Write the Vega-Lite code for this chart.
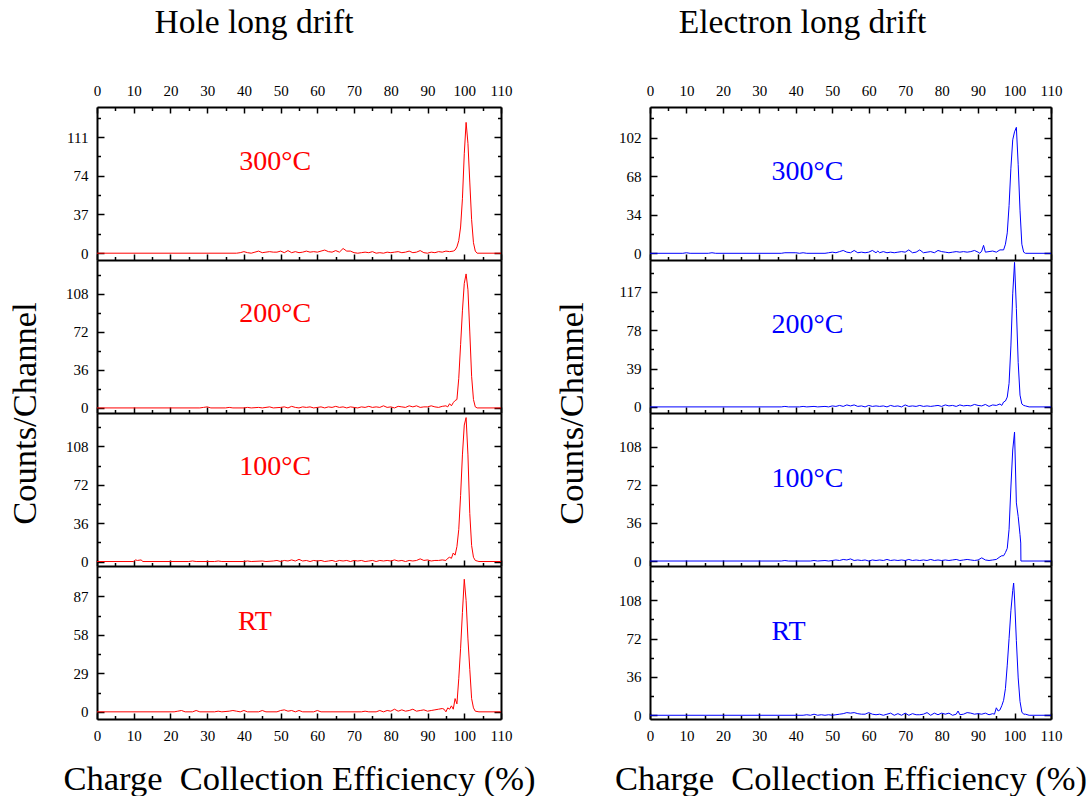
{
  "$schema": "https://vega.github.io/schema/vega-lite/v6.json",
  "background": "white",
  "padding": {"left": 7, "top": 6, "right": 5, "bottom": 5},
  "config": {
    "view": {"stroke": null},
    "font": "Liberation Serif",
    "axis": {
      "domainColor": "black", "domainWidth": 2, "tickColor": "black", "tickWidth": 1.5,
      "labelFont": "Liberation Serif", "labelFontSize": 15, "labelColor": "black",
      "grid": false, "labelFlush": false, "labelOverlap": false, "labelBound": false,
      "titleFont": "Liberation Serif", "titleFontWeight": "normal", "titleColor": "black"
    },
    "title": {"font": "Liberation Serif", "fontWeight": "normal", "fontSize": 33.5, "color": "black"},
    "text": {"font": "Liberation Serif"}
  },
  "datasets": {
    "h300": [
      {"x":0,"y":0},{"x":38,"y":0},{"x":39,"y":0.5},{"x":40,"y":1.5},{"x":41,"y":0.5},{"x":42,"y":0},{"x":43,"y":1},{"x":44,"y":2},{"x":45,"y":0.5},{"x":46,"y":1},{"x":47,"y":1.5},{"x":48,"y":1},{"x":49,"y":1},{"x":50,"y":2},{"x":51,"y":0.5},{"x":52,"y":2.5},{"x":53,"y":0.5},{"x":54,"y":1.5},{"x":55,"y":0.5},{"x":56,"y":1},{"x":57,"y":2},{"x":58,"y":1},{"x":59,"y":1.5},{"x":60,"y":1},{"x":61,"y":2},{"x":62,"y":3},{"x":63,"y":1.5},{"x":64,"y":1},{"x":65,"y":2.5},{"x":66,"y":1},{"x":67,"y":4.5},{"x":68,"y":2},{"x":69,"y":2},{"x":70,"y":0.5},{"x":71,"y":0},{"x":72,"y":0.5},{"x":73,"y":1},{"x":74,"y":0.5},{"x":75,"y":1.5},{"x":76,"y":0},{"x":77,"y":0.5},{"x":78,"y":0},{"x":79,"y":1},{"x":80,"y":0.5},{"x":81,"y":1},{"x":82,"y":1.5},{"x":83,"y":0.5},{"x":84,"y":1},{"x":85,"y":2},{"x":86,"y":0.5},{"x":87,"y":1},{"x":88,"y":2.5},{"x":89,"y":0.5},{"x":90,"y":0},{"x":91,"y":1},{"x":92,"y":0.5},{"x":93,"y":1.5},{"x":94,"y":1},{"x":95,"y":2},{"x":96,"y":1.5},{"x":97,"y":2},{"x":97.5,"y":3},{"x":98,"y":6},{"x":98.5,"y":12},{"x":99,"y":25},{"x":99.5,"y":52},{"x":100,"y":95},{"x":100.5,"y":125},{"x":101,"y":105},{"x":101.5,"y":68},{"x":102,"y":32},{"x":102.5,"y":10},{"x":103,"y":2},{"x":103.5,"y":0},{"x":110,"y":0}
    ],
    "h200": [
      {"x":0,"y":0},{"x":28,"y":0},{"x":29,"y":0.5},{"x":30,"y":1},{"x":31,"y":0},{"x":35,"y":0},{"x":36,"y":0.5},{"x":37,"y":0},{"x":40,"y":0},{"x":41,"y":0.5},{"x":42,"y":0},{"x":44,"y":0.5},{"x":45,"y":0},{"x":47,"y":1},{"x":48,"y":0},{"x":50,"y":0.5},{"x":51,"y":1},{"x":52,"y":0},{"x":53,"y":1.5},{"x":54,"y":0.5},{"x":55,"y":0},{"x":56,"y":1},{"x":57,"y":0.5},{"x":58,"y":1},{"x":59,"y":0},{"x":60,"y":0.5},{"x":61,"y":1},{"x":62,"y":0},{"x":63,"y":1},{"x":64,"y":0.5},{"x":65,"y":1.5},{"x":66,"y":0.5},{"x":67,"y":1},{"x":68,"y":0},{"x":69,"y":1},{"x":70,"y":0.5},{"x":71,"y":0},{"x":72,"y":1},{"x":73,"y":0.5},{"x":74,"y":1.5},{"x":75,"y":0.5},{"x":76,"y":1},{"x":77,"y":0.5},{"x":78,"y":2},{"x":79,"y":0.5},{"x":80,"y":1},{"x":81,"y":0},{"x":82,"y":1.5},{"x":83,"y":1},{"x":84,"y":0.5},{"x":85,"y":2},{"x":86,"y":1},{"x":87,"y":2},{"x":88,"y":0.5},{"x":89,"y":1},{"x":90,"y":1},{"x":91,"y":2},{"x":92,"y":1},{"x":93,"y":0.5},{"x":94,"y":1.5},{"x":95,"y":2},{"x":95.5,"y":1},{"x":96,"y":4},{"x":96.5,"y":2},{"x":97,"y":5},{"x":97.5,"y":7},{"x":98,"y":8},{"x":98.5,"y":28},{"x":99,"y":60},{"x":99.5,"y":92},{"x":100,"y":118},{"x":100.5,"y":127},{"x":101,"y":112},{"x":101.5,"y":72},{"x":102,"y":30},{"x":102.5,"y":8},{"x":103,"y":1},{"x":103.5,"y":0},{"x":110,"y":0}
    ],
    "h100": [
      {"x":0,"y":0},{"x":10,"y":0},{"x":10.5,"y":1.5},{"x":11,"y":1},{"x":12,"y":1.5},{"x":12.5,"y":0},{"x":25,"y":0},{"x":26,"y":0.5},{"x":27,"y":0},{"x":32,"y":0},{"x":33,"y":0.5},{"x":34,"y":0},{"x":40,"y":0},{"x":41,"y":0.5},{"x":42,"y":0},{"x":45,"y":0.5},{"x":46,"y":0},{"x":48,"y":0.5},{"x":49,"y":1},{"x":50,"y":0},{"x":51,"y":1},{"x":52,"y":0.5},{"x":53,"y":1.5},{"x":54,"y":0.5},{"x":55,"y":2},{"x":56,"y":0.5},{"x":57,"y":1},{"x":58,"y":0},{"x":59,"y":1},{"x":60,"y":0.5},{"x":61,"y":1},{"x":62,"y":0},{"x":63,"y":0.5},{"x":64,"y":1},{"x":65,"y":0},{"x":66,"y":1},{"x":67,"y":0.5},{"x":68,"y":1},{"x":69,"y":0},{"x":70,"y":1},{"x":71,"y":0.5},{"x":72,"y":1},{"x":73,"y":0},{"x":74,"y":0.5},{"x":75,"y":1},{"x":76,"y":0},{"x":77,"y":1},{"x":78,"y":0.5},{"x":79,"y":1},{"x":80,"y":0.5},{"x":81,"y":1.5},{"x":82,"y":0.5},{"x":83,"y":1},{"x":84,"y":0},{"x":85,"y":1},{"x":86,"y":0.5},{"x":87,"y":1},{"x":88,"y":2.5},{"x":89,"y":1},{"x":90,"y":1.5},{"x":91,"y":0.5},{"x":92,"y":1},{"x":93,"y":1},{"x":94,"y":1.5},{"x":95,"y":1},{"x":95.5,"y":3},{"x":96,"y":4},{"x":96.5,"y":3},{"x":97,"y":8},{"x":97.5,"y":6},{"x":98,"y":14},{"x":98.5,"y":30},{"x":99,"y":62},{"x":99.5,"y":100},{"x":100,"y":128},{"x":100.5,"y":135},{"x":101,"y":100},{"x":101.5,"y":45},{"x":102,"y":15},{"x":102.5,"y":4},{"x":103,"y":1},{"x":103.5,"y":0.5},{"x":104,"y":0},{"x":110,"y":0}
    ],
    "hrt": [
      {"x":0,"y":0},{"x":21,"y":0},{"x":22,"y":0.5},{"x":23,"y":1},{"x":24,"y":0},{"x":26,"y":0},{"x":27,"y":1},{"x":28,"y":0},{"x":32,"y":0},{"x":33,"y":0.5},{"x":34,"y":0},{"x":36,"y":0.5},{"x":37,"y":1},{"x":38,"y":0.5},{"x":39,"y":0},{"x":40,"y":1},{"x":41,"y":0},{"x":44,"y":0},{"x":45,"y":1},{"x":46,"y":0},{"x":49,"y":0},{"x":50,"y":1},{"x":51,"y":1.5},{"x":52,"y":0.5},{"x":53,"y":1},{"x":54,"y":0},{"x":55,"y":1},{"x":56,"y":0},{"x":59,"y":0},{"x":60,"y":1},{"x":61,"y":0},{"x":72,"y":0},{"x":73,"y":0.5},{"x":74,"y":0},{"x":76,"y":0},{"x":77,"y":1},{"x":78,"y":0},{"x":79,"y":1},{"x":80,"y":0.5},{"x":81,"y":2},{"x":82,"y":0.5},{"x":83,"y":1.5},{"x":84,"y":0.5},{"x":85,"y":1},{"x":86,"y":2},{"x":87,"y":0.5},{"x":88,"y":1},{"x":89,"y":1.5},{"x":90,"y":0.5},{"x":91,"y":1},{"x":92,"y":1.5},{"x":93,"y":2},{"x":94,"y":2.5},{"x":94.5,"y":2},{"x":95,"y":0},{"x":95.5,"y":3},{"x":96,"y":2},{"x":96.5,"y":4.5},{"x":97,"y":2},{"x":97.5,"y":10},{"x":98,"y":6},{"x":98.5,"y":25},{"x":99,"y":48},{"x":99.5,"y":75},{"x":100,"y":100},{"x":100.5,"y":84},{"x":101,"y":55},{"x":101.5,"y":32},{"x":102,"y":10},{"x":102.5,"y":3},{"x":103,"y":0.5},{"x":104,"y":0},{"x":110,"y":0}
    ],
    "e300": [
      {"x":0,"y":0},{"x":9,"y":0},{"x":10,"y":0.5},{"x":11,"y":0},{"x":16,"y":0},{"x":17,"y":0.5},{"x":18,"y":0},{"x":36,"y":0},{"x":37,"y":0.5},{"x":40,"y":0.5},{"x":41,"y":0},{"x":42,"y":0.5},{"x":43,"y":0},{"x":48,"y":0},{"x":49,"y":0.5},{"x":50,"y":1},{"x":51,"y":0.5},{"x":52,"y":1.5},{"x":53,"y":2.5},{"x":54,"y":1},{"x":55,"y":0.5},{"x":56,"y":2.5},{"x":57,"y":0.5},{"x":58,"y":1},{"x":59,"y":0.5},{"x":60,"y":1},{"x":61,"y":2.5},{"x":62,"y":0.5},{"x":62.5,"y":2},{"x":63,"y":0.5},{"x":64,"y":1.5},{"x":65,"y":0.5},{"x":66,"y":1},{"x":67,"y":0.5},{"x":68,"y":1},{"x":69,"y":1.5},{"x":70,"y":1},{"x":71,"y":3},{"x":72,"y":0.5},{"x":73,"y":1},{"x":74,"y":3},{"x":75,"y":0.5},{"x":76,"y":1},{"x":77,"y":1.5},{"x":78,"y":0.5},{"x":79,"y":2.5},{"x":80,"y":1.5},{"x":81,"y":1},{"x":82,"y":0.5},{"x":83,"y":1},{"x":84,"y":1.5},{"x":85,"y":1},{"x":86,"y":1.5},{"x":87,"y":1},{"x":88,"y":1.5},{"x":89,"y":2.5},{"x":90,"y":1},{"x":90.5,"y":0},{"x":91,"y":2},{"x":91.5,"y":7},{"x":92,"y":1},{"x":93,"y":1.5},{"x":94,"y":2},{"x":95,"y":1},{"x":96,"y":3},{"x":97,"y":3},{"x":97.5,"y":8},{"x":98,"y":18},{"x":98.5,"y":42},{"x":99,"y":75},{"x":99.5,"y":100},{"x":100,"y":107},{"x":100.5,"y":111},{"x":101,"y":78},{"x":101.5,"y":38},{"x":102,"y":8},{"x":102.5,"y":1},{"x":103,"y":0},{"x":110,"y":0}
    ],
    "e200": [
      {"x":0,"y":0},{"x":36,"y":0},{"x":37,"y":0.5},{"x":38,"y":0},{"x":41,"y":0},{"x":42,"y":0.5},{"x":43,"y":0},{"x":45,"y":0.5},{"x":46,"y":0},{"x":48,"y":0.5},{"x":49,"y":0},{"x":50,"y":1},{"x":51,"y":0.5},{"x":52,"y":1.5},{"x":53,"y":0.5},{"x":54,"y":2},{"x":55,"y":1},{"x":56,"y":2},{"x":57,"y":0.5},{"x":58,"y":1},{"x":59,"y":0},{"x":60,"y":1.5},{"x":61,"y":0.5},{"x":62,"y":1},{"x":63,"y":0.5},{"x":64,"y":1},{"x":65,"y":0},{"x":66,"y":1.5},{"x":67,"y":0.5},{"x":68,"y":1},{"x":69,"y":0},{"x":70,"y":2},{"x":71,"y":0.5},{"x":72,"y":1},{"x":73,"y":0.5},{"x":74,"y":1.5},{"x":75,"y":0.5},{"x":76,"y":1},{"x":77,"y":0.5},{"x":78,"y":1},{"x":79,"y":1.5},{"x":80,"y":0.5},{"x":81,"y":2},{"x":82,"y":1},{"x":83,"y":1.5},{"x":84,"y":0.5},{"x":85,"y":2},{"x":86,"y":1},{"x":87,"y":1.5},{"x":88,"y":1},{"x":89,"y":2.5},{"x":90,"y":1.5},{"x":91,"y":1},{"x":92,"y":2.5},{"x":93,"y":0.5},{"x":94,"y":2},{"x":95,"y":1.5},{"x":96,"y":3},{"x":96.5,"y":1.5},{"x":97,"y":5},{"x":97.5,"y":6},{"x":98,"y":10},{"x":98.5,"y":24},{"x":99,"y":62},{"x":99.5,"y":115},{"x":100,"y":147},{"x":100.5,"y":100},{"x":101,"y":45},{"x":101.5,"y":12},{"x":102,"y":3},{"x":102.5,"y":1.5},{"x":103,"y":1},{"x":104,"y":0},{"x":110,"y":0}
    ],
    "e100": [
      {"x":0,"y":0},{"x":36,"y":0},{"x":37,"y":0.5},{"x":38,"y":0},{"x":44,"y":0},{"x":45,"y":0.5},{"x":46,"y":0},{"x":48,"y":0.5},{"x":49,"y":0},{"x":50,"y":0.5},{"x":51,"y":1},{"x":52,"y":0.5},{"x":53,"y":1.5},{"x":54,"y":1},{"x":55,"y":2},{"x":56,"y":0.5},{"x":57,"y":1},{"x":58,"y":0.5},{"x":59,"y":1},{"x":60,"y":0},{"x":61,"y":1},{"x":62,"y":0.5},{"x":63,"y":1},{"x":64,"y":0.5},{"x":65,"y":1.5},{"x":66,"y":0.5},{"x":67,"y":1},{"x":68,"y":0.5},{"x":69,"y":1},{"x":70,"y":0.5},{"x":71,"y":1.5},{"x":72,"y":0.5},{"x":73,"y":1},{"x":74,"y":0.5},{"x":75,"y":1},{"x":76,"y":0.5},{"x":77,"y":1.5},{"x":78,"y":0.5},{"x":79,"y":1},{"x":80,"y":0.5},{"x":81,"y":1},{"x":82,"y":0.5},{"x":83,"y":1},{"x":84,"y":1.5},{"x":85,"y":0.5},{"x":86,"y":1},{"x":87,"y":1.5},{"x":88,"y":1},{"x":89,"y":0.5},{"x":90,"y":1},{"x":91,"y":3},{"x":92,"y":1},{"x":93,"y":0.5},{"x":94,"y":1},{"x":95,"y":1.5},{"x":96,"y":4},{"x":96.5,"y":5},{"x":97,"y":5},{"x":97.5,"y":8},{"x":98,"y":12},{"x":98.5,"y":30},{"x":99,"y":70},{"x":99.5,"y":105},{"x":100,"y":122},{"x":100.5,"y":55},{"x":101,"y":42},{"x":101.5,"y":25},{"x":101.7,"y":17},{"x":101.75,"y":0},{"x":110,"y":0}
    ],
    "ert": [
      {"x":0,"y":0},{"x":42,"y":0},{"x":43,"y":0.5},{"x":44,"y":0},{"x":45,"y":1},{"x":46,"y":0},{"x":47,"y":0.5},{"x":48,"y":0},{"x":49,"y":0.5},{"x":50,"y":0},{"x":51,"y":0.5},{"x":52,"y":1},{"x":53,"y":1.5},{"x":54,"y":2.5},{"x":55,"y":2},{"x":56,"y":2.5},{"x":57,"y":1.5},{"x":58,"y":1},{"x":59,"y":1},{"x":60,"y":2.5},{"x":61,"y":1},{"x":62,"y":0.5},{"x":63,"y":1},{"x":64,"y":0},{"x":65,"y":1},{"x":66,"y":2},{"x":67,"y":0},{"x":68,"y":1.5},{"x":69,"y":0},{"x":70,"y":2},{"x":71,"y":0},{"x":72,"y":1.5},{"x":73,"y":0.5},{"x":74,"y":0.5},{"x":75,"y":1},{"x":76,"y":2.5},{"x":77,"y":0},{"x":78,"y":2},{"x":79,"y":0.5},{"x":80,"y":2},{"x":81,"y":1},{"x":82,"y":2},{"x":83,"y":0},{"x":84,"y":1},{"x":84.5,"y":4},{"x":85,"y":0.5},{"x":86,"y":1},{"x":87,"y":2.5},{"x":88,"y":2},{"x":89,"y":1},{"x":90,"y":1.5},{"x":91,"y":1},{"x":92,"y":2},{"x":93,"y":0.5},{"x":94,"y":1.5},{"x":94.5,"y":1},{"x":95,"y":7},{"x":95.5,"y":4},{"x":96,"y":5},{"x":96.5,"y":9},{"x":97,"y":14},{"x":97.5,"y":25},{"x":98,"y":47},{"x":98.5,"y":72},{"x":99,"y":98},{"x":99.5,"y":117},{"x":99.75,"y":124},{"x":100,"y":110},{"x":100.5,"y":70},{"x":101,"y":35},{"x":101.5,"y":13},{"x":102,"y":3},{"x":102.5,"y":1},{"x":103,"y":1},{"x":104,"y":0},{"x":110,"y":0}
    ]
  },
  "columns": 2,
  "spacing": {"row": 0, "column": 149},
  "bounds": "flush",
  "concat": [
    {
      "title": {"text": "Hole long drift", "anchor": "middle", "dx": -45, "offset": 40},
      "width": 404, "height": 153,
      "resolve": {"axis": {"x": "independent", "y": "independent"}},
      "layer": [
        {
          "data": {"name": "h300"},
          "mark": {"type": "line", "color": "#ff0000", "strokeWidth": 1, "clip": true},
          "encoding": {
            "x": {"field": "x", "type": "quantitative", "scale": {"domain": [0, 110], "nice": false, "zero": false},
              "axis": {"orient": "bottom", "values": [0,5,10,15,20,25,30,35,40,45,50,55,60,65,70,75,80,85,90,95,100,105,110], "labels": false, "title": null,
                "tickSize": {"condition": {"test": "datum.value % 10 === 0", "value": -6}, "value": -3.5}}},
            "y": {"field": "y", "type": "quantitative", "scale": {"domain": [-6.5, 139.7], "nice": false, "zero": false},
              "axis": {"orient": "left", "values": [0,18.5,37,55.5,74,92.5,111,129.5], "title": null, "labelPadding": 16,
                "labelExpr": "datum.value % 37 === 0 ? datum.label : ''",
                "tickSize": {"condition": {"test": "datum.value % 37 === 0", "value": -7}, "value": -3.5}}}
          }
        },
        {
          "data": {"values": [{"label": "300°C"}]},
          "mark": {"type": "text", "color": "#ff0000", "fontSize": 28, "align": "center", "baseline": "middle"},
          "encoding": {
            "text": {"field": "label"},
            "x": {"datum": 48.5, "type": "quantitative", "scale": {"domain": [0, 110], "nice": false, "zero": false},
              "axis": {"orient": "top", "values": [0,5,10,15,20,25,30,35,40,45,50,55,60,65,70,75,80,85,90,95,100,105,110], "title": null, "labelPadding": 15,
                "labelExpr": "datum.value % 10 === 0 ? datum.label : ''",
                "tickSize": {"condition": {"test": "datum.value % 10 === 0", "value": -6}, "value": -3.5}}},
            "y": {"datum": 87, "type": "quantitative", "scale": {"domain": [-6.5, 139.7], "nice": false, "zero": false},
              "axis": {"orient": "right", "values": [0,18.5,37,55.5,74,92.5,111,129.5], "title": null, "labels": false,
                "tickSize": {"condition": {"test": "datum.value % 37 === 0", "value": -7}, "value": -3.5}}}
          }
        }
      ]
    },
    {
      "title": {"text": "Electron long drift", "anchor": "middle", "dx": -48, "offset": 40},
      "width": 401, "height": 153,
      "resolve": {"axis": {"x": "independent", "y": "independent"}},
      "layer": [
        {
          "data": {"name": "e300"},
          "mark": {"type": "line", "color": "#0000ff", "strokeWidth": 1, "clip": true},
          "encoding": {
            "x": {"field": "x", "type": "quantitative", "scale": {"domain": [0, 110], "nice": false, "zero": false},
              "axis": {"orient": "bottom", "values": [0,5,10,15,20,25,30,35,40,45,50,55,60,65,70,75,80,85,90,95,100,105,110], "labels": false, "title": null,
                "tickSize": {"condition": {"test": "datum.value % 10 === 0", "value": -6}, "value": -3.5}}},
            "y": {"field": "y", "type": "quantitative", "scale": {"domain": [-5.9, 128.9], "nice": false, "zero": false},
              "axis": {"orient": "left", "values": [0,17,34,51,68,85,102,119], "title": null, "labelPadding": 16,
                "labelExpr": "datum.value % 34 === 0 ? datum.label : ''",
                "tickSize": {"condition": {"test": "datum.value % 34 === 0", "value": -7}, "value": -3.5}}}
          }
        },
        {
          "data": {"values": [{"label": "300°C"}]},
          "mark": {"type": "text", "color": "#0000ff", "fontSize": 28, "align": "center", "baseline": "middle"},
          "encoding": {
            "text": {"field": "label"},
            "x": {"datum": 43.2, "type": "quantitative", "scale": {"domain": [0, 110], "nice": false, "zero": false},
              "axis": {"orient": "top", "values": [0,5,10,15,20,25,30,35,40,45,50,55,60,65,70,75,80,85,90,95,100,105,110], "title": null, "labelPadding": 15,
                "labelExpr": "datum.value % 10 === 0 ? datum.label : ''",
                "tickSize": {"condition": {"test": "datum.value % 10 === 0", "value": -6}, "value": -3.5}}},
            "y": {"datum": 72, "type": "quantitative", "scale": {"domain": [-5.9, 128.9], "nice": false, "zero": false},
              "axis": {"orient": "right", "values": [0,17,34,51,68,85,102,119], "title": null, "labels": false,
                "tickSize": {"condition": {"test": "datum.value % 34 === 0", "value": -7}, "value": -3.5}}}
          }
        }
      ]
    },
    {
      "width": 404, "height": 153,
      "resolve": {"axis": {"x": "independent", "y": "independent"}},
      "layer": [
        {
          "data": {"name": "h200"},
          "mark": {"type": "line", "color": "#ff0000", "strokeWidth": 1, "clip": true},
          "encoding": {
            "x": {"field": "x", "type": "quantitative", "scale": {"domain": [0, 110], "nice": false, "zero": false},
              "axis": {"orient": "bottom", "values": [0,5,10,15,20,25,30,35,40,45,50,55,60,65,70,75,80,85,90,95,100,105,110], "labels": false, "title": null,
                "tickSize": {"condition": {"test": "datum.value % 10 === 0", "value": -6}, "value": -3.5}}},
            "y": {"field": "y", "type": "quantitative", "scale": {"domain": [-4.8, 140.2], "nice": false, "zero": false},
              "axis": {"orient": "left", "values": [0,18,36,54,72,90,108,126], "labelPadding": 16,
                "labelExpr": "datum.value % 36 === 0 ? datum.label : ''",
                "title": "Counts/Channel", "titleFontSize": 34.5, "titleX": -72, "titleY": 153, "titleAngle": 270, "titleAlign": "center", "titleBaseline": "middle",
                "tickSize": {"condition": {"test": "datum.value % 36 === 0", "value": -7}, "value": -3.5}}}
          }
        },
        {
          "data": {"values": [{"label": "200°C"}]},
          "mark": {"type": "text", "color": "#ff0000", "fontSize": 28, "align": "center", "baseline": "middle"},
          "encoding": {
            "text": {"field": "label"},
            "x": {"datum": 48.5, "type": "quantitative", "scale": {"domain": [0, 110], "nice": false, "zero": false}, "axis": null},
            "y": {"datum": 89, "type": "quantitative", "scale": {"domain": [-4.8, 140.2], "nice": false, "zero": false},
              "axis": {"orient": "right", "values": [0,18,36,54,72,90,108,126], "title": null, "labels": false,
                "tickSize": {"condition": {"test": "datum.value % 36 === 0", "value": -7}, "value": -3.5}}}
          }
        }
      ]
    },
    {
      "width": 401, "height": 153,
      "resolve": {"axis": {"x": "independent", "y": "independent"}},
      "layer": [
        {
          "data": {"name": "e200"},
          "mark": {"type": "line", "color": "#0000ff", "strokeWidth": 1, "clip": true},
          "encoding": {
            "x": {"field": "x", "type": "quantitative", "scale": {"domain": [0, 110], "nice": false, "zero": false},
              "axis": {"orient": "bottom", "values": [0,5,10,15,20,25,30,35,40,45,50,55,60,65,70,75,80,85,90,95,100,105,110], "labels": false, "title": null,
                "tickSize": {"condition": {"test": "datum.value % 10 === 0", "value": -6}, "value": -3.5}}},
            "y": {"field": "y", "type": "quantitative", "scale": {"domain": [-6.2, 149.4], "nice": false, "zero": false},
              "axis": {"orient": "left", "values": [0,19.5,39,58.5,78,97.5,117,136.5], "labelPadding": 16,
                "labelExpr": "datum.value % 39 === 0 ? datum.label : ''",
                "title": "Counts/Channel", "titleFontSize": 34.5, "titleX": -78, "titleY": 153, "titleAngle": 270, "titleAlign": "center", "titleBaseline": "middle",
                "tickSize": {"condition": {"test": "datum.value % 39 === 0", "value": -7}, "value": -3.5}}}
          }
        },
        {
          "data": {"values": [{"label": "200°C"}]},
          "mark": {"type": "text", "color": "#0000ff", "fontSize": 28, "align": "center", "baseline": "middle"},
          "encoding": {
            "text": {"field": "label"},
            "x": {"datum": 43.2, "type": "quantitative", "scale": {"domain": [0, 110], "nice": false, "zero": false}, "axis": null},
            "y": {"datum": 83, "type": "quantitative", "scale": {"domain": [-6.2, 149.4], "nice": false, "zero": false},
              "axis": {"orient": "right", "values": [0,19.5,39,58.5,78,97.5,117,136.5], "title": null, "labels": false,
                "tickSize": {"condition": {"test": "datum.value % 39 === 0", "value": -7}, "value": -3.5}}}
          }
        }
      ]
    },
    {
      "width": 404, "height": 153,
      "resolve": {"axis": {"x": "independent", "y": "independent"}},
      "layer": [
        {
          "data": {"name": "h100"},
          "mark": {"type": "line", "color": "#ff0000", "strokeWidth": 1, "clip": true},
          "encoding": {
            "x": {"field": "x", "type": "quantitative", "scale": {"domain": [0, 110], "nice": false, "zero": false},
              "axis": {"orient": "bottom", "values": [0,5,10,15,20,25,30,35,40,45,50,55,60,65,70,75,80,85,90,95,100,105,110], "labels": false, "title": null,
                "tickSize": {"condition": {"test": "datum.value % 10 === 0", "value": -6}, "value": -3.5}}},
            "y": {"field": "y", "type": "quantitative", "scale": {"domain": [-4.2, 139.3], "nice": false, "zero": false},
              "axis": {"orient": "left", "values": [0,18,36,54,72,90,108,126], "title": null, "labelPadding": 16,
                "labelExpr": "datum.value % 36 === 0 ? datum.label : ''",
                "tickSize": {"condition": {"test": "datum.value % 36 === 0", "value": -7}, "value": -3.5}}}
          }
        },
        {
          "data": {"values": [{"label": "100°C"}]},
          "mark": {"type": "text", "color": "#ff0000", "fontSize": 28, "align": "center", "baseline": "middle"},
          "encoding": {
            "text": {"field": "label"},
            "x": {"datum": 48.5, "type": "quantitative", "scale": {"domain": [0, 110], "nice": false, "zero": false}, "axis": null},
            "y": {"datum": 89, "type": "quantitative", "scale": {"domain": [-4.2, 139.3], "nice": false, "zero": false},
              "axis": {"orient": "right", "values": [0,18,36,54,72,90,108,126], "title": null, "labels": false,
                "tickSize": {"condition": {"test": "datum.value % 36 === 0", "value": -7}, "value": -3.5}}}
          }
        }
      ]
    },
    {
      "width": 401, "height": 153,
      "resolve": {"axis": {"x": "independent", "y": "independent"}},
      "layer": [
        {
          "data": {"name": "e100"},
          "mark": {"type": "line", "color": "#0000ff", "strokeWidth": 1, "clip": true},
          "encoding": {
            "x": {"field": "x", "type": "quantitative", "scale": {"domain": [0, 110], "nice": false, "zero": false},
              "axis": {"orient": "bottom", "values": [0,5,10,15,20,25,30,35,40,45,50,55,60,65,70,75,80,85,90,95,100,105,110], "labels": false, "title": null,
                "tickSize": {"condition": {"test": "datum.value % 10 === 0", "value": -6}, "value": -3.5}}},
            "y": {"field": "y", "type": "quantitative", "scale": {"domain": [-4.7, 140], "nice": false, "zero": false},
              "axis": {"orient": "left", "values": [0,18,36,54,72,90,108,126], "title": null, "labelPadding": 16,
                "labelExpr": "datum.value % 36 === 0 ? datum.label : ''",
                "tickSize": {"condition": {"test": "datum.value % 36 === 0", "value": -7}, "value": -3.5}}}
          }
        },
        {
          "data": {"values": [{"label": "100°C"}]},
          "mark": {"type": "text", "color": "#0000ff", "fontSize": 28, "align": "center", "baseline": "middle"},
          "encoding": {
            "text": {"field": "label"},
            "x": {"datum": 43.2, "type": "quantitative", "scale": {"domain": [0, 110], "nice": false, "zero": false}, "axis": null},
            "y": {"datum": 77.6, "type": "quantitative", "scale": {"domain": [-4.7, 140], "nice": false, "zero": false},
              "axis": {"orient": "right", "values": [0,18,36,54,72,90,108,126], "title": null, "labels": false,
                "tickSize": {"condition": {"test": "datum.value % 36 === 0", "value": -7}, "value": -3.5}}}
          }
        }
      ]
    },
    {
      "width": 404, "height": 153,
      "resolve": {"axis": {"x": "independent", "y": "independent"}},
      "layer": [
        {
          "data": {"name": "hrt"},
          "mark": {"type": "line", "color": "#ff0000", "strokeWidth": 1, "clip": true},
          "encoding": {
            "x": {"field": "x", "type": "quantitative", "scale": {"domain": [0, 110], "nice": false, "zero": false},
              "axis": {"orient": "bottom", "values": [0,5,10,15,20,25,30,35,40,45,50,55,60,65,70,75,80,85,90,95,100,105,110], "labelPadding": 15,
                "labelExpr": "datum.value % 10 === 0 ? datum.label : ''",
                "title": "Charge\u00a0 Collection Efficiency (%)", "titleFontSize": 34.5, "titlePadding": 17,
                "tickSize": {"condition": {"test": "datum.value % 10 === 0", "value": -6}, "value": -3.5}}},
            "y": {"field": "y", "type": "quantitative", "scale": {"domain": [-5.4, 110], "nice": false, "zero": false},
              "axis": {"orient": "left", "values": [0,14.5,29,43.5,58,72.5,87,101.5], "title": null, "labelPadding": 16,
                "labelExpr": "datum.value % 29 === 0 ? datum.label : ''",
                "tickSize": {"condition": {"test": "datum.value % 29 === 0", "value": -7}, "value": -3.5}}}
          }
        },
        {
          "data": {"values": [{"label": "RT"}]},
          "mark": {"type": "text", "color": "#ff0000", "fontSize": 28, "align": "center", "baseline": "middle"},
          "encoding": {
            "text": {"field": "label"},
            "x": {"datum": 43, "type": "quantitative", "scale": {"domain": [0, 110], "nice": false, "zero": false}, "axis": null},
            "y": {"datum": 68, "type": "quantitative", "scale": {"domain": [-5.4, 110], "nice": false, "zero": false},
              "axis": {"orient": "right", "values": [0,14.5,29,43.5,58,72.5,87,101.5], "title": null, "labels": false,
                "tickSize": {"condition": {"test": "datum.value % 29 === 0", "value": -7}, "value": -3.5}}}
          }
        }
      ]
    },
    {
      "width": 401, "height": 153,
      "resolve": {"axis": {"x": "independent", "y": "independent"}},
      "layer": [
        {
          "data": {"name": "ert"},
          "mark": {"type": "line", "color": "#0000ff", "strokeWidth": 1, "clip": true},
          "encoding": {
            "x": {"field": "x", "type": "quantitative", "scale": {"domain": [0, 110], "nice": false, "zero": false},
              "axis": {"orient": "bottom", "values": [0,5,10,15,20,25,30,35,40,45,50,55,60,65,70,75,80,85,90,95,100,105,110], "labelPadding": 15,
                "labelExpr": "datum.value % 10 === 0 ? datum.label : ''",
                "title": "Charge\u00a0 Collection Efficiency (%)", "titleFontSize": 34.5, "titlePadding": 17,
                "tickSize": {"condition": {"test": "datum.value % 10 === 0", "value": -6}, "value": -3.5}}},
            "y": {"field": "y", "type": "quantitative", "scale": {"domain": [-3.5, 140], "nice": false, "zero": false},
              "axis": {"orient": "left", "values": [0,18,36,54,72,90,108,126], "title": null, "labelPadding": 16,
                "labelExpr": "datum.value % 36 === 0 ? datum.label : ''",
                "tickSize": {"condition": {"test": "datum.value % 36 === 0", "value": -7}, "value": -3.5}}}
          }
        },
        {
          "data": {"values": [{"label": "RT"}]},
          "mark": {"type": "text", "color": "#0000ff", "fontSize": 28, "align": "center", "baseline": "middle"},
          "encoding": {
            "text": {"field": "label"},
            "x": {"datum": 38, "type": "quantitative", "scale": {"domain": [0, 110], "nice": false, "zero": false}, "axis": null},
            "y": {"datum": 78, "type": "quantitative", "scale": {"domain": [-3.5, 140], "nice": false, "zero": false},
              "axis": {"orient": "right", "values": [0,18,36,54,72,90,108,126], "title": null, "labels": false,
                "tickSize": {"condition": {"test": "datum.value % 36 === 0", "value": -7}, "value": -3.5}}}
          }
        }
      ]
    }
  ]
}
